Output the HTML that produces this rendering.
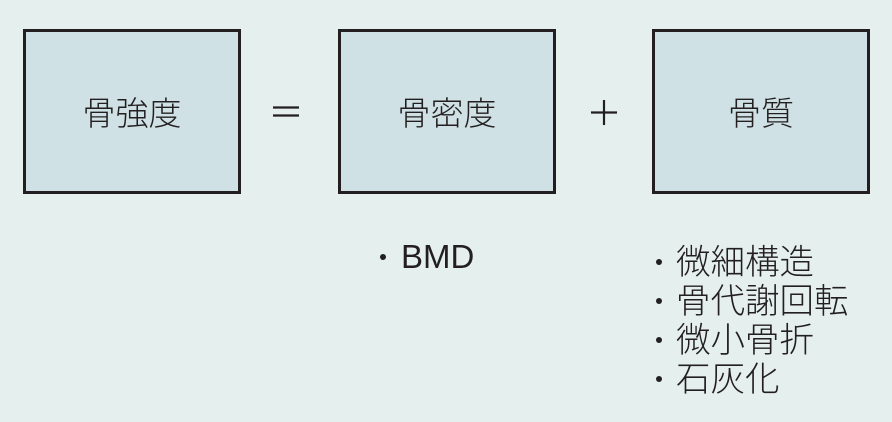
<!DOCTYPE html>
<html><head><meta charset="utf-8"><style>
html,body{margin:0;padding:0;background:#e5efee;}
svg{display:block}
text{font-family:"Liberation Sans","Noto Sans CJK JP",sans-serif;fill:#231f20;font-weight:300;}
</style></head><body>
<svg width="892" height="422" viewBox="0 0 892 422" xmlns="http://www.w3.org/2000/svg">
<rect width="892" height="422" fill="#e5efee"/>
<g fill="#cfe1e4" stroke="#231f20" stroke-width="3">
<rect x="24.5" y="30.5" width="215" height="162"/>
<rect x="339.5" y="30.5" width="215" height="162"/>
<rect x="653.5" y="30.5" width="215" height="162"/>
</g>
<g font-size="33" text-anchor="middle">
<text x="132" y="125" font-family="Noto Sans CJK JP">骨強度</text>
<text x="447" y="125" font-family="Noto Sans CJK JP">骨密度</text>
<text x="761" y="125" font-family="Noto Sans CJK JP">骨質</text>
</g>
<g stroke="#231f20" stroke-width="2.2">
<line x1="273" y1="107.5" x2="299" y2="107.5"/>
<line x1="273" y1="115.5" x2="299" y2="115.5"/>
<line x1="591" y1="112.5" x2="617" y2="112.5"/>
<line x1="604" y1="100" x2="604" y2="125"/>
</g>
<circle cx="383" cy="257" r="3" fill="#231f20"/>
<text x="401" y="268" font-size="33">BMD</text>
<g fill="#231f20">
<circle cx="659" cy="262" r="3"/>
<circle cx="659" cy="301" r="3"/>
<circle cx="659" cy="340" r="3"/>
<circle cx="659" cy="379" r="3"/>
</g>
<g font-size="34.5">
<text x="676" y="274" font-family="Noto Sans CJK JP">微細構造</text>
<text x="676" y="313" font-family="Noto Sans CJK JP">骨代謝回転</text>
<text x="676" y="352" font-family="Noto Sans CJK JP">微小骨折</text>
<text x="676" y="391" font-family="Noto Sans CJK JP">石灰化</text>
</g>
</svg>
</body></html>
